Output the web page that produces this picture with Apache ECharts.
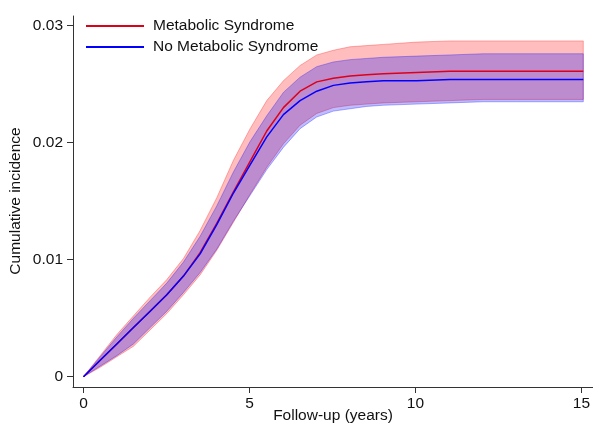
<!DOCTYPE html>
<html>
<head>
<meta charset="utf-8">
<script src="https://cdn.jsdelivr.net/npm/echarts@6/dist/echarts.min.js"></script>
<style>
  html, body { margin: 0; padding: 0; background: #fff; }
  #chart { width: 593px; height: 427px; }
</style>
</head>
<body>
<div id="chart"></div>
<script>
// follow-up time (years)
var years = [0, 0.5, 1, 1.5, 2, 2.5, 3, 3.5, 4, 4.5, 5, 5.5, 6, 6.5, 7, 7.5, 8, 8.5, 9, 10, 11, 12, 13, 14, 15];

// Metabolic Syndrome
var msEst   = [0, 0.0014, 0.0028, 0.0042, 0.0056, 0.0070, 0.0086, 0.0106, 0.0131, 0.0158, 0.0184, 0.0210, 0.0230, 0.0244, 0.0252, 0.0255, 0.0257, 0.0258, 0.0259, 0.0260, 0.0261, 0.0261, 0.0261, 0.0261, 0.0261];
var msUpper = [0, 0.0018, 0.0036, 0.0052, 0.0068, 0.0083, 0.0101, 0.0125, 0.0153, 0.0185, 0.0212, 0.0236, 0.0253, 0.0266, 0.0275, 0.0279, 0.0282, 0.0283, 0.0284, 0.0286, 0.0287, 0.0287, 0.0287, 0.0287, 0.0287];
var msLower = [0, 0.0008, 0.0017, 0.0026, 0.0040, 0.0054, 0.0070, 0.0087, 0.0108, 0.0132, 0.0156, 0.0179, 0.0199, 0.0215, 0.0225, 0.0230, 0.0232, 0.0233, 0.0234, 0.0235, 0.0236, 0.0237, 0.0237, 0.0237, 0.0237];

// No Metabolic Syndrome
var noEst   = [0, 0.0014, 0.0028, 0.0042, 0.0056, 0.0070, 0.0086, 0.0105, 0.0130, 0.0157, 0.0181, 0.0205, 0.0224, 0.0236, 0.0244, 0.0249, 0.0251, 0.0252, 0.0253, 0.0253, 0.0254, 0.0254, 0.0254, 0.0254, 0.0254];
var noUpper = [0, 0.0017, 0.0034, 0.0050, 0.0065, 0.0080, 0.0098, 0.0120, 0.0146, 0.0175, 0.0201, 0.0223, 0.0243, 0.0256, 0.0265, 0.0269, 0.0271, 0.0272, 0.0273, 0.0274, 0.0275, 0.0276, 0.0276, 0.0276, 0.0276];
var noLower = [0, 0.0009, 0.0018, 0.0028, 0.0042, 0.0056, 0.0072, 0.0089, 0.0109, 0.0133, 0.0155, 0.0177, 0.0196, 0.0212, 0.0222, 0.0227, 0.0229, 0.0231, 0.0232, 0.0233, 0.0234, 0.0235, 0.0235, 0.0235, 0.0235];

var yTickLabels = ['0', '0.01', '0.02', '0.03'];
var xTitle = 'Follow-up (years)';
var yTitle = 'Cumulative incidence';

var font = '"Liberation Sans", Arial, sans-serif';
var axisColor = '#333';

function pairs(ys) {
  return years.map(function (x, i) { return [x, ys[i]]; });
}

// confidence band as one polygon: upper edge forward, lower edge back
function band(lower, upper, rgb) {
  return {
    type: 'custom',
    silent: true,
    data: [[0, 0]],
    renderItem: function (params, api) {
      var pts = [];
      for (var i = 0; i < years.length; i++) pts.push(api.coord([years[i], upper[i]]));
      for (var j = years.length - 1; j >= 0; j--) pts.push(api.coord([years[j], lower[j]]));
      return {
        type: 'polygon',
        shape: { points: pts },
        style: {
          fill: 'rgba(' + rgb + ',0.26)',
          stroke: 'rgba(' + rgb + ',0.3)',
          lineWidth: 1
        }
      };
    }
  };
}

var hidden = { axisLine: { show: false }, axisTick: { show: false }, axisLabel: { show: false }, splitLine: { show: false } };
function hiddenAxis(grid, min, max) {
  return Object.assign({ type: 'value', gridIndex: grid, min: min, max: max }, hidden);
}

var chart = echarts.init(document.getElementById('chart'));

var series = [
  band(msLower, msUpper, '255,0,0'),
  {
    name: 'Metabolic Syndrome', type: 'line', data: pairs(msEst),
    symbol: 'none', lineStyle: { color: '#dd0018', width: 1.5 }, itemStyle: { color: '#dd0018' }
  },
  band(noLower, noUpper, '0,0,255'),
  {
    name: 'No Metabolic Syndrome', type: 'line', data: pairs(noEst),
    symbol: 'none', lineStyle: { color: '#0000ff', width: 1.5 }, itemStyle: { color: '#0000ff' }
  }
];

// grid 0: data area; grid 1: long axis lines (Stata style, set off from the data);
// grid 2: x ticks/labels on the x axis line; grid 3: y ticks/labels on the y axis line
var option = {
  animation: false,
  backgroundColor: '#fff',
  textStyle: { fontFamily: font },
  grid: [
    { left: 83.5, right: 9.7, top: 25.7, bottom: 50.3 },
    { left: 73, right: 0, top: 16, bottom: 40 },
    { left: 83.5, right: 9.7, top: 25.7, bottom: 40 },
    { left: 73, right: 9.7, top: 25.7, bottom: 50.3 }
  ],
  legend: {
    orient: 'vertical',
    left: 86, top: 18, padding: 0,
    itemWidth: 58, itemHeight: 2, itemGap: 5,
    icon: 'rect',
    data: ['Metabolic Syndrome', 'No Metabolic Syndrome'],
    textStyle: { fontFamily: font, fontSize: 15.5, color: '#111', padding: [0, 0, 0, 4] }
  },
  graphic: [
    {
      type: 'text', x: 333, y: 416, silent: true,
      style: { text: xTitle, fontSize: 15.5, fontFamily: font, fill: '#111',
               align: 'center', verticalAlign: 'middle' }
    },
    {
      type: 'text', x: 16, y: 201, rotation: Math.PI / 2, silent: true,
      style: { text: yTitle, fontSize: 15.5, fontFamily: font, fill: '#111',
               align: 'center', verticalAlign: 'middle' }
    }
  ],
  xAxis: [
    hiddenAxis(0, 0, 15),
    {
      type: 'value', gridIndex: 1, min: 0, max: 1,
      axisLine: { show: true, onZero: false, lineStyle: { color: axisColor, width: 1 } },
      axisTick: { show: false }, axisLabel: { show: false }, splitLine: { show: false }
    },
    {
      type: 'value', gridIndex: 2, min: 0, max: 15, interval: 5,
      axisLine: { show: false, onZero: false },
      axisTick: { show: true, length: 6, lineStyle: { color: axisColor, width: 1 } },
      splitLine: { show: false },
      axisLabel: { margin: 9, fontSize: 15.5, color: '#111', fontFamily: font }
    },
    hiddenAxis(3, 0, 15)
  ],
  yAxis: [
    hiddenAxis(0, 0, 0.03),
    {
      type: 'value', gridIndex: 1, min: 0, max: 1,
      axisLine: { show: true, onZero: false, lineStyle: { color: axisColor, width: 1 } },
      axisTick: { show: false }, axisLabel: { show: false }, splitLine: { show: false }
    },
    hiddenAxis(2, 0, 0.03),
    {
      type: 'value', gridIndex: 3, min: 0, max: 0.03, interval: 0.01,
      axisLine: { show: false, onZero: false },
      axisTick: { show: true, length: 6, lineStyle: { color: axisColor, width: 1 } },
      splitLine: { show: false },
      axisLabel: {
        margin: 10, fontSize: 15.5, color: '#111', fontFamily: font,
        formatter: function (v) { return yTickLabels[Math.round(v / 0.01)]; }
      }
    }
  ],
  series: series
};

chart.setOption(option);
</script>
</body>
</html>
